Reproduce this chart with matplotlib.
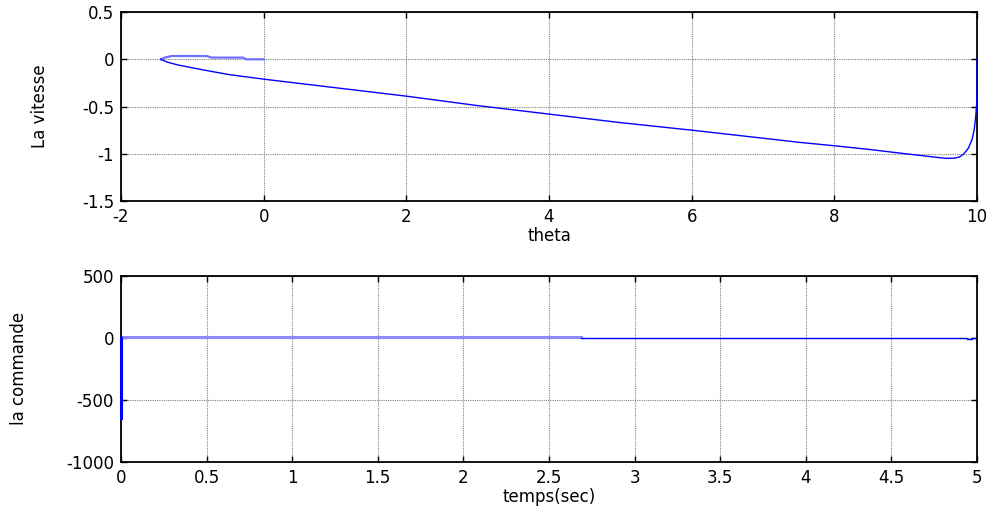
import matplotlib
matplotlib.use('Agg')
import matplotlib.pyplot as plt

# ---- 相平面 (theta, vitesse) ----
theta_main = [10.0, 10.0, 9.995, 9.98, 9.96, 9.93, 9.88, 9.81, 9.75, 9.68, 9.55, 9.35,
              9.0, 8.5, 8.0, 7.52, 7.0, 6.0, 5.0, 4.0, 3.0, 2.0, 1.0, 0.0,
              -0.5, -0.89, -1.2, -1.35, -1.44]
vit_main = [0.0, -0.30, -0.48, -0.62, -0.75, -0.85, -0.94, -1.005, -1.035, -1.047, -1.048, -1.03,
            -1.0, -0.955, -0.915, -0.88, -0.835, -0.75, -0.67, -0.58, -0.49, -0.39, -0.30, -0.21,
            -0.16, -0.106, -0.06, -0.03, 0.0]
theta_ret = [-1.44, -1.38, -1.29, -0.80, -0.73, -0.29, -0.24, 0.0]
vit_ret = [0.0, 0.02, 0.035, 0.035, 0.018, 0.018, 0.0, 0.0]

# ---- commande u(t) ----
t_spike = [0.0, 0.0]
u_spike = [0.0, -650.0]
t_chat = [0.0, 2.687]
u_chat = [8.0, 8.0]
t_tail = [2.687, 4.94, 4.94, 4.97, 4.97, 5.0]
u_tail = [0.0, 0.0, -12.0, -12.0, 0.0, 0.0]

plt.rcParams['font.family'] = ['DejaVu Sans']
plt.rcParams['axes.unicode_minus'] = False
FS = 12

fig = plt.figure(figsize=(9.94, 5.12), dpi=100)
fig.patch.set_facecolor('white')

ax1 = fig.add_axes([0.1217, 0.6074, 0.8612, 0.369])
ax2 = fig.add_axes([0.1217, 0.0982, 0.8612, 0.3627])


def matlab_style(ax):
    ax.grid(True, color='#808080', linestyle=(0, (1, 1)), linewidth=0.8)
    ax.tick_params(direction='in', length=4, width=1, top=True, right=True,
                   labelsize=FS, colors='black', pad=5)
    for sp in ax.spines.values():
        sp.set_linewidth(1.3)
        sp.set_color('black')
    ax.set_axisbelow(True)


ax1.plot(theta_ret, vit_ret, color='#7070ff', linewidth=1.6)
ax1.plot(theta_main, vit_main, color='#0000ff', linewidth=1.0,
         clip_on=False, zorder=5)
ax1.set_xlim(-2, 10)
ax1.set_ylim(-1.5, 0.5)
ax1.set_xticks([-2, 0, 2, 4, 6, 8, 10])
ax1.set_yticks([-1.5, -1, -0.5, 0, 0.5])
ax1.set_yticklabels(['-1.5', '-1', '-0.5', '0', '0.5'])
ax1.set_xlabel('theta', fontsize=FS, labelpad=1)
ax1.set_ylabel('La vitesse', fontsize=FS)
ax1.yaxis.set_label_coords(-0.084, 0.5)
matlab_style(ax1)

ax2.plot(t_chat, u_chat, color='#8a8aff', linewidth=2.2)
ax2.plot(t_tail, u_tail, color='#0000ff', linewidth=1.0)
ax2.plot(t_spike, u_spike, color='#0000ff', linewidth=2.2,
         clip_on=False, zorder=5)
ax2.set_xlim(0, 5)
ax2.set_ylim(-1000, 500)
ax2.set_xticks([0, 0.5, 1, 1.5, 2, 2.5, 3, 3.5, 4, 4.5, 5])
ax2.set_xticklabels(['0', '0.5', '1', '1.5', '2', '2.5', '3', '3.5', '4', '4.5', '5'])
ax2.set_yticks([-1000, -500, 0, 500])
ax2.set_xlabel('temps(sec)', fontsize=FS, labelpad=1)
ax2.set_ylabel('la commande', fontsize=FS)
ax2.yaxis.set_label_coords(-0.109, 0.5)
matlab_style(ax2)

fig.savefig('out.png', dpi=100, facecolor='white')
